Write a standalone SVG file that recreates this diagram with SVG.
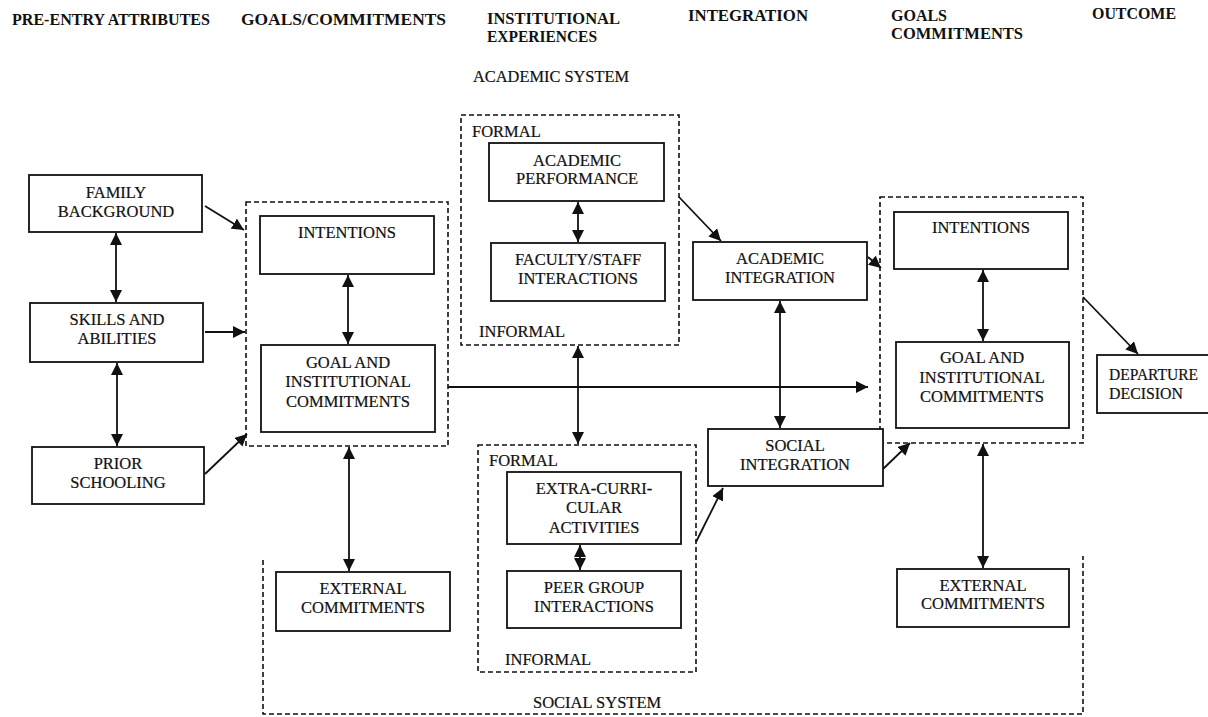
<svg xmlns="http://www.w3.org/2000/svg" width="1208" height="717" viewBox="0 0 1208 717">
<defs>
<style>
.box{fill:#fff;stroke:#111;stroke-width:1.8}
.dash{fill:none;stroke:#111;stroke-width:1.6;stroke-dasharray:5,3}
.t{font-family:"Liberation Serif","Times New Roman",serif;font-size:16.5px;fill:#111;stroke:#111;stroke-width:0.2}
.c{text-anchor:middle}
.h{font-family:"Liberation Serif","Times New Roman",serif;font-size:16px;font-weight:bold;fill:#111}
.ln{fill:none;stroke:#111;stroke-width:1.8}
.a{marker-end:url(#ah)}
.d{marker-start:url(#ah);marker-end:url(#ah)}
</style>
<marker id="ah" markerUnits="userSpaceOnUse" markerWidth="13" markerHeight="12" refX="12" refY="6" orient="auto-start-reverse" viewBox="0 0 13 12">
<path d="M0,0 L12,6 L0,12 z" fill="#111"/>
</marker>
</defs>
<rect width="1208" height="717" fill="#fff"/>

<g id="headers">
<text class="h" x="12" y="25" textLength="198" lengthAdjust="spacingAndGlyphs">PRE-ENTRY ATTRIBUTES</text>
<text class="h" x="241" y="25" textLength="205" lengthAdjust="spacingAndGlyphs">GOALS/COMMITMENTS</text>
<text class="h" x="487" y="24" textLength="133" lengthAdjust="spacingAndGlyphs">INSTITUTIONAL</text>
<text class="h" x="487" y="42" textLength="110" lengthAdjust="spacingAndGlyphs">EXPERIENCES</text>
<text class="h" x="688" y="21" textLength="120" lengthAdjust="spacingAndGlyphs">INTEGRATION</text>
<text class="h" x="891" y="21" textLength="56" lengthAdjust="spacingAndGlyphs">GOALS</text>
<text class="h" x="891" y="39" textLength="132" lengthAdjust="spacingAndGlyphs">COMMITMENTS</text>
<text class="h" x="1092" y="19" textLength="84" lengthAdjust="spacingAndGlyphs">OUTCOME</text>
<text class="t" x="473" y="82" textLength="156" lengthAdjust="spacingAndGlyphs">ACADEMIC SYSTEM</text>
</g>

<g id="groups">
<rect id="goals-left-group" class="dash" x="246" y="202" width="202" height="244"/>
<g id="academic-system">
<rect class="dash" x="461" y="115" width="218" height="230"/>
<text class="t" x="472" y="137">FORMAL</text>
<text class="t" x="479" y="337">INFORMAL</text>
</g>
<g id="social-formal-informal">
<rect class="dash" x="478" y="445" width="218" height="227"/>
<text class="t" x="489" y="466">FORMAL</text>
<text class="t" x="505" y="665">INFORMAL</text>
</g>
<rect id="goals-right-group" class="dash" x="880" y="197" width="203" height="246"/>
<g id="social-system">
<path class="dash" d="M263,560 L263,714 L1083,714 L1083,556"/>
<text class="t" x="533" y="708">SOCIAL SYSTEM</text>
</g>
</g>

<g id="connectors">
<line class="ln a" x1="205" y1="206" x2="244" y2="230"/>
<line class="ln a" x1="205" y1="332" x2="245" y2="332"/>
<line class="ln a" x1="205" y1="474" x2="247" y2="434"/>
<line class="ln d" x1="116" y1="233" x2="116" y2="302"/>
<line class="ln d" x1="117" y1="363" x2="117" y2="446"/>
<line class="ln d" x1="348" y1="275" x2="348" y2="344"/>
<line class="ln d" x1="349" y1="447" x2="349" y2="571"/>
<line class="ln a" x1="448" y1="387" x2="868" y2="387"/>
<line class="ln d" x1="578" y1="346" x2="578" y2="444"/>
<line class="ln d" x1="578" y1="202" x2="578" y2="242"/>
<line class="ln a" x1="679" y1="197" x2="721" y2="241"/>
<line class="ln d" x1="780" y1="301" x2="780" y2="428"/>
<line class="ln a" x1="868" y1="257" x2="881" y2="268"/>
<line class="ln a" x1="696" y1="542" x2="723" y2="488"/>
<line class="ln a" x1="883" y1="469" x2="910" y2="443"/>
<line class="ln d" x1="983" y1="270" x2="983" y2="341"/>
<line class="ln d" x1="983" y1="444" x2="983" y2="568"/>
<line class="ln a" x1="1083" y1="297" x2="1138" y2="354"/>
<line class="ln d" x1="580" y1="545" x2="580" y2="570"/>
</g>

<g id="family-background">
<rect class="box" x="29" y="175" width="173" height="57"/>
<text class="t c" x="116" y="198">FAMILY</text>
<text class="t c" x="116" y="217">BACKGROUND</text>
</g>
<g id="skills-abilities">
<rect class="box" x="30" y="303" width="173" height="59"/>
<text class="t c" x="117" y="325">SKILLS AND</text>
<text class="t c" x="117" y="344">ABILITIES</text>
</g>
<g id="prior-schooling">
<rect class="box" x="32" y="447" width="172" height="57"/>
<text class="t c" x="118" y="469">PRIOR</text>
<text class="t c" x="118" y="488">SCHOOLING</text>
</g>
<g id="intentions-1">
<rect class="box" x="260" y="216" width="174" height="58"/>
<text class="t c" x="347" y="238">INTENTIONS</text>
</g>
<g id="goal-commitments-1">
<rect class="box" x="261" y="345" width="174" height="87"/>
<text class="t c" x="348" y="368">GOAL AND</text>
<text class="t c" x="348" y="387">INSTITUTIONAL</text>
<text class="t c" x="348" y="407">COMMITMENTS</text>
</g>
<g id="external-commitments-1">
<rect class="box" x="276" y="572" width="174" height="59"/>
<text class="t c" x="363" y="594">EXTERNAL</text>
<text class="t c" x="363" y="613">COMMITMENTS</text>
</g>
<g id="academic-performance">
<rect class="box" x="489" y="143" width="175" height="58"/>
<text class="t c" x="577" y="166">ACADEMIC</text>
<text class="t c" x="577" y="184">PERFORMANCE</text>
</g>
<g id="faculty-staff">
<rect class="box" x="491" y="243" width="174" height="58"/>
<text class="t c" x="578" y="265">FACULTY/STAFF</text>
<text class="t c" x="578" y="284">INTERACTIONS</text>
</g>
<g id="extra-curricular">
<rect class="box" x="507" y="472" width="174" height="72"/>
<text class="t c" x="594" y="494">EXTRA-CURRI-</text>
<text class="t c" x="594" y="513">CULAR</text>
<text class="t c" x="594" y="533">ACTIVITIES</text>
</g>
<g id="peer-group">
<rect class="box" x="507" y="571" width="174" height="57"/>
<text class="t c" x="594" y="593">PEER GROUP</text>
<text class="t c" x="594" y="612">INTERACTIONS</text>
</g>
<g id="academic-integration">
<rect class="box" x="693" y="242" width="174" height="58"/>
<text class="t c" x="780" y="264">ACADEMIC</text>
<text class="t c" x="780" y="283">INTEGRATION</text>
</g>
<g id="social-integration">
<rect class="box" x="708" y="429" width="175" height="57"/>
<text class="t c" x="795" y="451">SOCIAL</text>
<text class="t c" x="795" y="470">INTEGRATION</text>
</g>
<g id="intentions-2">
<rect class="box" x="894" y="212" width="174" height="57"/>
<text class="t c" x="981" y="233">INTENTIONS</text>
</g>
<g id="goal-commitments-2">
<rect class="box" x="896" y="342" width="173" height="86"/>
<text class="t c" x="982" y="363">GOAL AND</text>
<text class="t c" x="982" y="383">INSTITUTIONAL</text>
<text class="t c" x="982" y="402">COMMITMENTS</text>
</g>
<g id="external-commitments-2">
<rect class="box" x="897" y="569" width="172" height="58"/>
<text class="t c" x="983" y="591">EXTERNAL</text>
<text class="t c" x="983" y="609">COMMITMENTS</text>
</g>
<g id="departure-decision">
<rect class="box" x="1097" y="355" width="125" height="58"/>
<text class="t" x="1109" y="380" textLength="89" lengthAdjust="spacingAndGlyphs">DEPARTURE</text>
<text class="t" x="1109" y="399" textLength="74" lengthAdjust="spacingAndGlyphs">DECISION</text>
</g>
</svg>
